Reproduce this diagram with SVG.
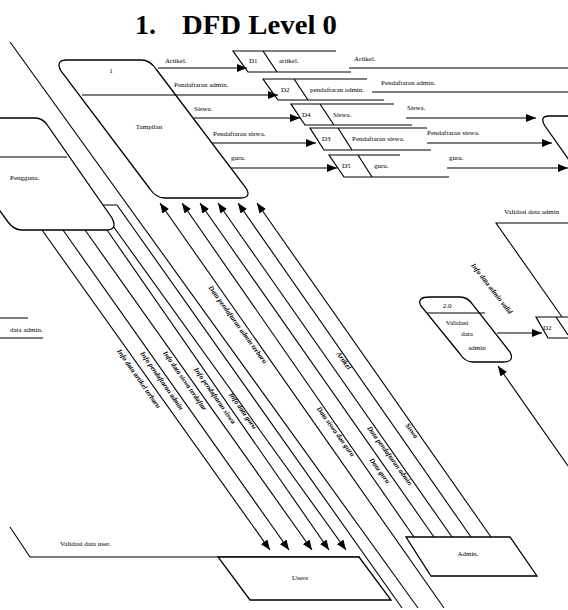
<svg xmlns="http://www.w3.org/2000/svg" width="568" height="610" viewBox="0 0 568 610">
<defs>
<marker id="ah" markerWidth="10" markerHeight="8" refX="10" refY="4" orient="auto" markerUnits="userSpaceOnUse"><path d="M0,0 L10,4 L0,8 z" fill="#000"/></marker>
<style>
.s{fill:none;stroke:#000;stroke-width:1.2}
.n{fill:#fff;stroke:#000;stroke-width:1.3}
.l{fill:none;stroke:#000;stroke-width:1.1}
.a{fill:none;stroke:#000;stroke-width:1.1;marker-end:url(#ah)}
.t{font-family:"Liberation Serif",serif;font-size:7px;fill:#000}
.r{font-family:"Liberation Serif",serif;font-size:7px;font-weight:bold;font-style:italic;fill:#000}
.c{text-anchor:middle}
</style>
</defs>
<rect width="568" height="610" fill="#fff"/>
<text x="135" y="34" font-family="Liberation Serif,serif" font-weight="bold" font-size="28">1.</text>
<text x="182" y="34" font-family="Liberation Serif,serif" font-weight="bold" font-size="28" textLength="155" lengthAdjust="spacingAndGlyphs">DFD Level 0</text>

<g id="connectors">
<path class="l" d="M10,42 L418,608"/>
<path class="l" d="M103,205 L117,205 L402,608"/>
<path class="a" d="M158,68 L247,68"/>
<path class="a" d="M82,95 L278,95"/>
<path class="a" d="M194,118 L300,118"/>
<path class="a" d="M212,143 L316,143"/>
<path class="a" d="M230,168 L337,168"/>
<path class="l" d="M349,68 L568,68"/>
<path class="l" d="M372,92 L568,92"/>
<path class="a" d="M406,118 L536,118"/>
<path class="a" d="M427,143 L552,143"/>
<path class="a" d="M447,168 L568,168"/>
<path class="a" d="M42,230 L270,550"/>
<path class="a" d="M63,230 L289,550"/>
<path class="a" d="M85,230 L312,550"/>
<path class="a" d="M107,230 L329,550"/>
<path class="a" d="M113,226 L346,550"/>
<path class="a" d="M444,608 L160,203"/>
<path class="a" d="M414,537 L182,203"/>
<path class="a" d="M434,537 L200,203"/>
<path class="a" d="M452,537 L218,203"/>
<path class="a" d="M471,537 L238,203"/>
<path class="a" d="M491,537 L257,203"/>
<path class="l" d="M10,527 L30,557 L360,557"/>
<path class="a" d="M497,333 L542,333"/>
<path class="l" d="M568,223 L496,223 L562,317"/>
<path class="a" d="M568,466 L498,366"/>
</g>

<g id="labels">
<text class="t" x="165" y="63">Artikel.</text>
<text class="t" x="174" y="87">Pendaftaran admin.</text>
<text class="t" x="194" y="111">Siswa.</text>
<text class="t" x="213" y="136">Pendaftaran siswa.</text>
<text class="t" x="231" y="160">guru.</text>
<text class="t" x="354" y="61">Artikel.</text>
<text class="t" x="381" y="85">Pendaftaran admin.</text>
<text class="t" x="407" y="110">Siswa.</text>
<text class="t" x="427" y="135">Pendaftaran siswa.</text>
<text class="t" x="449" y="160">guru.</text>
<text class="t" x="504" y="214">Validasi data admin</text>
<text class="t" x="60" y="546">Validasi data user.</text>
<text class="r c" transform="translate(137,380) rotate(55)">Info data artikel terbaru</text>
<text class="r c" transform="translate(160,382) rotate(55)">Info pendaftaran admin</text>
<text class="r c" transform="translate(183,382) rotate(55)">Info data siswa terdaftar</text>
<text class="r c" transform="translate(213,397) rotate(55)">Info pendaftaran siswa</text>
<text class="r c" transform="translate(241,412) rotate(55)">Info data guru</text>
<text class="r c" transform="translate(236,326) rotate(54)">Data pendaftaran admin terbaru</text>
<text class="r c" transform="translate(342,362) rotate(54)">Artikel</text>
<text class="r c" transform="translate(334,433) rotate(54)">Data siswa dan guru</text>
<text class="r c" transform="translate(388,457) rotate(54)">Data pendaftaran admin</text>
<text class="r c" transform="translate(378,472) rotate(54)">Data guru</text>
<text class="r c" transform="translate(410,432) rotate(54)">Siswa</text>
<text class="r c" transform="translate(490,290) rotate(52)">Info data admin valid</text>
</g>

<g id="p1">
<path class="n" d="M67,60 L141,60 Q150,60 156,69 L246,188 Q252,198 240,198 L165,198 Q156,198 150,189 L61,71 Q55,60 67,60 Z"/>
<text class="t c" x="111" y="73">1</text>
<text class="t c" x="149" y="129">Tampilan</text>
</g>
<path class="l" d="M82,95 L176,95"/>

<g id="p2">
<path class="n" d="M430,297 L460,297 Q468,297 473,305 L510,352 Q515,362 503,362 L473,362 Q465,362 460,354 L421,306 Q416,297 430,297 Z"/>
<path class="l" d="M427,313 L485,313"/>
<text class="t c" x="447" y="308">2.0</text>
<text class="t c" x="457" y="325">Validasi</text>
<text class="t c" x="467" y="336">data</text>
<text class="t c" x="477" y="350">admin</text>
</g>

<g id="p3">
<path class="n" d="M569,116 L549,116 Q539,116 545,126 L569,160"/>
</g>

<g id="pengguna">
<path class="n" d="M-2,118 L35,118 Q43,118 48,126 L112,218 Q118,230 106,230 L22,230 Q14,230 8,222 L-2,208"/>
<path class="l" d="M0,157 L67,157"/>
<text class="t" x="10" y="180">Pengguna.</text>
</g>

<g id="store-left">
<path class="l" d="M0,318 L28,318 M0,338 L43,338"/>
<text class="t" x="10" y="332">data admin.</text>
</g>

<g id="d1">
<path class="s" d="M336,51 L233,51 L248,72 L351,72 M263,51 L277,72"/>
<text class="t" x="249" y="63">D1</text>
<text class="t" x="279" y="63">artikel.</text>
</g>
<g id="d2">
<path class="s" d="M367,79 L263,79 L278,100 L384,100 M294,79 L308,100"/>
<text class="t" x="281" y="92">D2</text>
<text class="t" x="310" y="92">pendaftaran admin.</text>
</g>
<g id="d4">
<path class="s" d="M394,104 L291,104 L305,125 L412,125 M320,104 L334,125"/>
<text class="t" x="302" y="117">D4</text>
<text class="t" x="333" y="117">Siswa.</text>
</g>
<g id="d3">
<path class="s" d="M427,128 L310,128 L324,150 L431,150 M338,128 L352,150"/>
<text class="t" x="322" y="141">D3</text>
<text class="t" x="352" y="141">Pendaftaran siswa.</text>
</g>
<g id="d5">
<path class="s" d="M400,155 L329,155 L344,177 L449,177 M358,155 L372,177"/>
<text class="t" x="342" y="168">D5</text>
<text class="t" x="374" y="168">guru.</text>
</g>
<g id="d2b">
<path class="s" d="M569,317 L536,317 L548,338 L569,338 M556,317 L568,335"/>
<text class="t" x="543" y="330">D2</text>
</g>

<g id="users">
<path class="n" d="M218,557 L359,557 L391,600 L250,600 Z"/>
<text class="t c" x="300" y="580">Users</text>
</g>
<g id="admin">
<path class="n" d="M406,537 L510,537 L537,576 L431,576 Z"/>
<text class="t c" x="468" y="556">Admin.</text>
</g>
</svg>
